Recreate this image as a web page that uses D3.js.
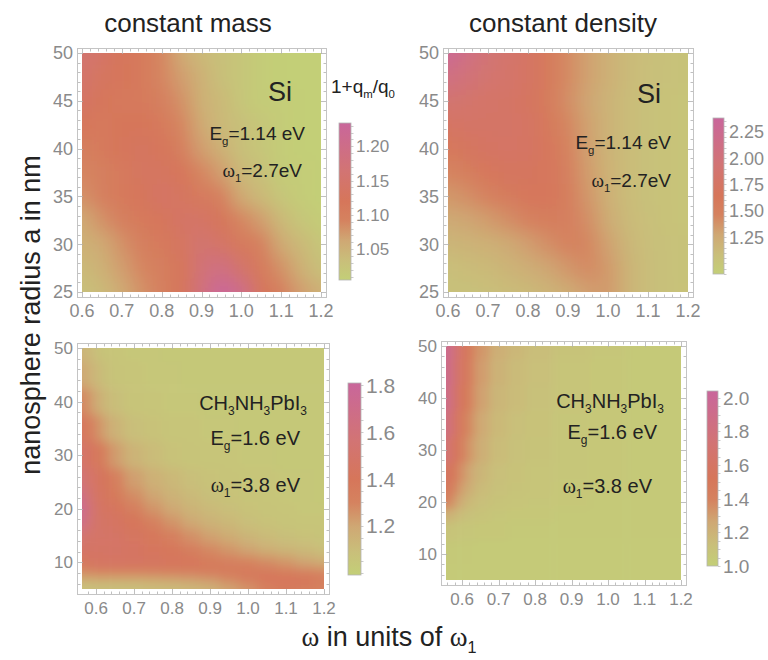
<!DOCTYPE html>
<html>
<head>
<meta charset="utf-8">
<script src="https://cdn.jsdelivr.net/npm/d3@7"></script>
<style>
  body { margin: 0; background: #fff; }
  text { font-family: 'Liberation Sans', Arial, sans-serif; }
</style>
</head>
<body>
<svg id="chart" width="768" height="660"></svg>
<script>
// grids (values of 1+q_m/q_0)
const siOmega = [0.6, 0.65, 0.7, 0.75, 0.8, 0.85, 0.9, 0.95, 1.0, 1.05, 1.1, 1.15, 1.2];
const siRadius = [50, 47.5, 45, 42.5, 40, 37.5, 35, 32.5, 30, 27.5, 25];

const siMassQ = [
  [1.16, 1.14, 1.12, 1.11, 1.09, 1.06, 1.04, 1.03, 1.02, 1.01, 1.00, 1.00, 1.00],
  [1.15, 1.13, 1.12, 1.11, 1.09, 1.07, 1.05, 1.03, 1.02, 1.01, 1.00, 1.00, 1.00],
  [1.14, 1.12, 1.11, 1.11, 1.10, 1.08, 1.05, 1.04, 1.02, 1.01, 1.01, 1.00, 1.00],
  [1.12, 1.11, 1.12, 1.12, 1.11, 1.09, 1.06, 1.04, 1.03, 1.02, 1.01, 1.00, 1.00],
  [1.10, 1.11, 1.12, 1.13, 1.12, 1.10, 1.07, 1.05, 1.03, 1.02, 1.01, 1.00, 1.00],
  [1.09, 1.10, 1.11, 1.13, 1.13, 1.12, 1.09, 1.07, 1.04, 1.03, 1.01, 1.01, 1.00],
  [1.08, 1.10, 1.11, 1.12, 1.14, 1.13, 1.11, 1.10, 1.06, 1.04, 1.02, 1.01, 1.00],
  [1.06, 1.08, 1.10, 1.11, 1.12, 1.14, 1.14, 1.12, 1.09, 1.07, 1.04, 1.02, 1.01],
  [1.05, 1.06, 1.08, 1.10, 1.11, 1.13, 1.16, 1.14, 1.11, 1.10, 1.06, 1.04, 1.02],
  [1.04, 1.05, 1.07, 1.09, 1.10, 1.12, 1.17, 1.19, 1.15, 1.11, 1.08, 1.05, 1.03],
  [1.03, 1.04, 1.06, 1.08, 1.10, 1.12, 1.18, 1.23, 1.20, 1.12, 1.10, 1.07, 1.05]
];

const siDensQ = [
  [2.30, 2.10, 1.95, 1.85, 1.75, 1.58, 1.42, 1.30, 1.20, 1.12, 1.08, 1.05, 1.03],
  [2.10, 1.98, 1.88, 1.82, 1.75, 1.58, 1.42, 1.30, 1.20, 1.12, 1.07, 1.05, 1.03],
  [1.90, 1.85, 1.80, 1.78, 1.72, 1.57, 1.40, 1.28, 1.18, 1.10, 1.06, 1.04, 1.02],
  [1.75, 1.78, 1.78, 1.78, 1.74, 1.60, 1.44, 1.30, 1.18, 1.10, 1.06, 1.04, 1.02],
  [1.60, 1.68, 1.74, 1.77, 1.75, 1.62, 1.46, 1.31, 1.18, 1.10, 1.06, 1.04, 1.02],
  [1.45, 1.52, 1.62, 1.70, 1.70, 1.62, 1.50, 1.33, 1.19, 1.10, 1.06, 1.04, 1.02],
  [1.35, 1.40, 1.47, 1.55, 1.62, 1.62, 1.52, 1.36, 1.20, 1.10, 1.06, 1.04, 1.02],
  [1.25, 1.28, 1.33, 1.40, 1.48, 1.52, 1.50, 1.40, 1.24, 1.12, 1.07, 1.04, 1.02],
  [1.15, 1.18, 1.20, 1.25, 1.32, 1.40, 1.46, 1.44, 1.30, 1.15, 1.08, 1.05, 1.03],
  [1.08, 1.10, 1.13, 1.17, 1.22, 1.28, 1.36, 1.42, 1.34, 1.18, 1.09, 1.05, 1.03],
  [1.05, 1.06, 1.08, 1.10, 1.13, 1.18, 1.24, 1.32, 1.34, 1.18, 1.09, 1.05, 1.04]
];

const pvkMassOmega = [0.563, 0.58, 0.6, 0.625, 0.65, 0.7, 0.75, 0.8, 0.85, 0.9, 0.95, 1.0, 1.05, 1.1, 1.15, 1.2];
const pvkMassRadius = [50, 45, 40, 35, 30, 25, 22.5, 20, 17.5, 15, 12.5, 10, 8, 6.5, 5];
const pvkMassQ = [
  [1.15, 1.12, 1.08, 1.06, 1.05, 1.04, 1.04, 1.03, 1.03, 1.03, 1.03, 1.03, 1.03, 1.03, 1.03, 1.03],
  [1.20, 1.16, 1.12, 1.08, 1.06, 1.05, 1.04, 1.04, 1.03, 1.03, 1.03, 1.03, 1.03, 1.03, 1.03, 1.03],
  [1.30, 1.25, 1.18, 1.12, 1.09, 1.06, 1.05, 1.04, 1.04, 1.03, 1.03, 1.03, 1.03, 1.03, 1.03, 1.03],
  [1.42, 1.36, 1.28, 1.20, 1.14, 1.09, 1.07, 1.05, 1.05, 1.04, 1.04, 1.03, 1.03, 1.03, 1.03, 1.03],
  [1.50, 1.45, 1.40, 1.30, 1.22, 1.14, 1.10, 1.07, 1.06, 1.05, 1.05, 1.04, 1.04, 1.03, 1.03, 1.03],
  [1.58, 1.50, 1.46, 1.40, 1.32, 1.22, 1.16, 1.12, 1.09, 1.07, 1.06, 1.05, 1.05, 1.04, 1.04, 1.03],
  [1.68, 1.55, 1.47, 1.42, 1.36, 1.27, 1.20, 1.15, 1.11, 1.08, 1.07, 1.06, 1.05, 1.04, 1.04, 1.03],
  [1.75, 1.60, 1.48, 1.45, 1.42, 1.33, 1.25, 1.19, 1.14, 1.11, 1.09, 1.07, 1.06, 1.05, 1.04, 1.04],
  [1.70, 1.58, 1.48, 1.47, 1.45, 1.40, 1.32, 1.25, 1.19, 1.15, 1.12, 1.09, 1.07, 1.06, 1.05, 1.05],
  [1.55, 1.50, 1.48, 1.48, 1.47, 1.44, 1.38, 1.32, 1.26, 1.21, 1.17, 1.13, 1.10, 1.08, 1.07, 1.06],
  [1.48, 1.47, 1.47, 1.47, 1.47, 1.45, 1.42, 1.38, 1.33, 1.28, 1.24, 1.20, 1.16, 1.13, 1.11, 1.09],
  [1.42, 1.44, 1.45, 1.46, 1.46, 1.45, 1.44, 1.42, 1.39, 1.36, 1.33, 1.30, 1.27, 1.24, 1.20, 1.17],
  [1.28, 1.29, 1.30, 1.30, 1.30, 1.30, 1.31, 1.32, 1.33, 1.35, 1.37, 1.38, 1.38, 1.36, 1.33, 1.30],
  [1.14, 1.14, 1.15, 1.15, 1.15, 1.15, 1.16, 1.18, 1.20, 1.22, 1.27, 1.32, 1.38, 1.40, 1.40, 1.35],
  [1.07, 1.07, 1.08, 1.08, 1.08, 1.09, 1.10, 1.10, 1.12, 1.15, 1.20, 1.25, 1.32, 1.35, 1.33, 1.30]
];

const pvkDensOmega = [0.556, 0.57, 0.585, 0.6, 0.62, 0.65, 0.7, 0.75, 0.8, 0.9, 1.0, 1.1, 1.2];
const pvkDensRadius = [50, 45, 40, 35, 30, 25, 22.5, 20, 17.5, 15, 10, 5];
const pvkDensQ = [
  [1.94, 1.86, 1.70, 1.58, 1.45, 1.32, 1.22, 1.17, 1.13, 1.09, 1.07, 1.05, 1.05],
  [1.92, 1.84, 1.68, 1.55, 1.43, 1.30, 1.20, 1.15, 1.12, 1.08, 1.06, 1.05, 1.05],
  [1.90, 1.80, 1.64, 1.52, 1.40, 1.28, 1.18, 1.14, 1.11, 1.08, 1.06, 1.05, 1.05],
  [1.84, 1.74, 1.58, 1.48, 1.36, 1.25, 1.16, 1.12, 1.10, 1.07, 1.06, 1.05, 1.05],
  [1.74, 1.65, 1.52, 1.42, 1.32, 1.22, 1.14, 1.11, 1.09, 1.07, 1.06, 1.05, 1.05],
  [1.58, 1.52, 1.42, 1.34, 1.26, 1.18, 1.12, 1.10, 1.08, 1.07, 1.06, 1.05, 1.05],
  [1.50, 1.45, 1.36, 1.28, 1.22, 1.15, 1.11, 1.09, 1.08, 1.06, 1.06, 1.05, 1.05],
  [1.42, 1.36, 1.28, 1.22, 1.16, 1.12, 1.09, 1.08, 1.07, 1.06, 1.05, 1.05, 1.05],
  [1.22, 1.20, 1.16, 1.13, 1.11, 1.09, 1.07, 1.06, 1.06, 1.05, 1.05, 1.05, 1.05],
  [1.10, 1.09, 1.08, 1.07, 1.07, 1.06, 1.06, 1.05, 1.05, 1.05, 1.05, 1.05, 1.05],
  [1.05, 1.05, 1.05, 1.05, 1.05, 1.04, 1.04, 1.04, 1.04, 1.04, 1.04, 1.04, 1.04],
  [1.04, 1.04, 1.04, 1.04, 1.04, 1.04, 1.04, 1.04, 1.04, 1.04, 1.04, 1.04, 1.04]
];

// tick labels
const omegaTicks = [0.6, 0.7, 0.8, 0.9, 1.0, 1.1, 1.2];
const siRadiusTicks = [25, 30, 35, 40, 45, 50];
const pvkRadiusTicks = [10, 20, 30, 40, 50];
const siMassBarTicks = [1.05, 1.10, 1.15, 1.20];
const siDensBarTicks = [1.25, 1.50, 1.75, 2.00, 2.25];
const pvkMassBarTicks = [1.2, 1.4, 1.6, 1.8];
const pvkDensBarTicks = [1.0, 1.2, 1.4, 1.6, 1.8, 2.0];

// colour gradient (green -> tan -> orange -> salmon -> pink)
const rampStops = [0, 0.12, 0.25, 0.38, 0.5, 0.7, 1];
const rampColors = ["#c3cf77", "#c9bf7a", "#cfa874", "#d5825f", "#d6765a", "#d27474", "#c9669b"];
const ramp = d3.scaleLinear().domain(rampStops).range(rampColors).interpolate(d3.interpolateRgb).clamp(true);

const svg = d3.select("#chart");
const defs = svg.append("defs");
const tickGrey = "#8a8a8a";
const frameGrey = "#c4c4c4";
const narrow = "'Liberation Sans Narrow', 'Liberation Sans', Arial, sans-serif";

const grad = defs.append("linearGradient").attr("id", "rampGrad")
  .attr("x1", 0).attr("y1", 1).attr("x2", 0).attr("y2", 0);
rampStops.forEach((s, i) => grad.append("stop").attr("offset", s).attr("stop-color", rampColors[i]));

// text with subscripts: parts = [{t, sub, serif}]
function richText(g, x, y, parts, size, anchor) {
  const t = g.append("text").attr("x", x).attr("y", y)
    .attr("text-anchor", anchor || "start")
    .style("font-size", size + "px").attr("fill", "#222");
  let down = false;
  parts.forEach(p => {
    const ts = t.append("tspan").text(p.t);
    if (p.serif) ts.style("font-family", "'Liberation Serif', 'DejaVu Serif', serif");
    if (p.sub) {
      ts.style("font-size", (size * 0.6) + "px");
      if (!down) { ts.attr("dy", size * 0.26); down = true; }
    } else if (down) {
      ts.attr("dy", -size * 0.26); down = false;
    }
  });
  return t;
}

function drawPanel(cfg, idx) {
  const [x0, x1, y0, y1] = cfg.box;
  const x = d3.scaleLinear().domain(cfg.xDom).range([x0, x1]);
  const y = d3.scaleLinear().domain(cfg.yDom).range([y1, y0]);
  const cmap = d3.scaleLinear().domain(cfg.bar.dom).range([0, 1]).clamp(true);
  const g = svg.append("g");

  // clip + blur
  defs.append("clipPath").attr("id", "clip" + idx)
    .append("rect").attr("x", x0).attr("y", y0).attr("width", x1 - x0).attr("height", y1 - y0);
  defs.append("filter").attr("id", "blur" + idx)
    .attr("x", "-10%").attr("y", "-10%").attr("width", "120%").attr("height", "120%")
    .append("feGaussianBlur").attr("stdDeviation", cfg.blur);

  const pad = 30;
  const px = cfg.omega.map(x);
  const py = cfg.radius.map(y);
  const xe = px.map((v, i) => i === 0 ? v - pad : (px[i - 1] + v) / 2).concat([px[px.length - 1] + pad]);
  // radius arrays run top->bottom
  const ye = py.map((v, i) => i === 0 ? v - pad : (py[i - 1] + v) / 2).concat([py[py.length - 1] + pad]);

  const cells = [];
  cfg.q.forEach((row, r) => row.forEach((v, c) => cells.push({ r, c, v })));

  g.append("g").attr("clip-path", `url(#clip${idx})`)
    .append("g").attr("filter", `url(#blur${idx})`)
    .selectAll("rect").data(cells).join("rect")
    .attr("x", d => xe[d.c])
    .attr("y", d => ye[d.r])
    .attr("width", d => xe[d.c + 1] - xe[d.c] + 0.6)
    .attr("height", d => ye[d.r + 1] - ye[d.r] + 0.6)
    .attr("fill", d => ramp(cmap(d.v)));

  // frame
  const fx0 = x0 - 5, fx1 = x1 + 5, fy0 = y0 - 5, fy1 = y1 + 5;
  g.append("rect").attr("x", fx0 + 0.5).attr("y", fy0 + 0.5)
    .attr("width", fx1 - fx0).attr("height", fy1 - fy0)
    .attr("fill", "none").attr("stroke", frameGrey).attr("stroke-width", 1);

  const ticks = g.append("g").attr("stroke", "#b0b0b0").attr("stroke-width", 0.8);
  const xMinor = d3.range(Math.ceil(cfg.xDom[0] / 0.02 - 1e-6), Math.floor(cfg.xDom[1] / 0.02 + 1e-6) + 1).map(k => k * 0.02);
  xMinor.forEach(v => {
    const major = Math.abs(v * 10 - Math.round(v * 10)) < 1e-6;
    const len = major ? 5 : 2.5;
    const xx = Math.round(x(v)) + 0.5;
    ticks.append("line").attr("x1", xx).attr("x2", xx).attr("y1", fy1).attr("y2", fy1 - len);
    ticks.append("line").attr("x1", xx).attr("x2", xx).attr("y1", fy0 + 1).attr("y2", fy0 + 1 + len);
  });
  const yMinor = d3.range(Math.ceil(cfg.yDom[0] / cfg.yMinor), Math.floor(cfg.yDom[1] / cfg.yMinor) + 1).map(k => k * cfg.yMinor);
  yMinor.forEach(v => {
    const major = cfg.yTicks.includes(v);
    const len = major ? 5 : 2.5;
    const yy = Math.round(y(v)) + 0.5;
    ticks.append("line").attr("y1", yy).attr("y2", yy).attr("x1", fx0 + 1).attr("x2", fx0 + 1 + len);
    ticks.append("line").attr("y1", yy).attr("y2", yy).attr("x1", fx1).attr("x2", fx1 - len);
  });

  g.selectAll(".xt").data(omegaTicks).join("text").attr("class", "xt")
    .attr("x", d => x(d)).attr("y", fy1 + 20)
    .attr("text-anchor", "middle").attr("fill", tickGrey)
    .style("font-family", narrow).style("font-size", cfg.tickSize + "px")
    .text(d => d3.format(".1f")(d));
  g.selectAll(".yt").data(cfg.yTicks).join("text").attr("class", "yt")
    .attr("x", fx0 - 4).attr("y", d => y(d)).attr("dy", "0.35em")
    .attr("text-anchor", "end").attr("fill", tickGrey)
    .style("font-family", narrow).style("font-size", cfg.tickSize + "px")
    .text(d => d);

  // colour bar
  const b = cfg.bar;
  const by = d3.scaleLinear().domain(b.dom).range([b.y1, b.y0]);
  g.append("rect").attr("x", b.x).attr("y", b.y0).attr("width", b.w).attr("height", b.y1 - b.y0)
    .attr("fill", "url(#rampGrad)").attr("stroke", "#b5b5b5").attr("stroke-width", 0.8);
  const bMinor = d3.range(Math.ceil(b.dom[0] / b.minor), Math.floor(b.dom[1] / b.minor) + 1).map(k => k * b.minor);
  g.append("g").attr("stroke", "#b5b5b5").attr("stroke-width", 0.7)
    .selectAll("line").data(bMinor).join("line")
    .attr("x1", b.x + b.w).attr("x2", b.x + b.w + 2.5)
    .attr("y1", d => Math.round(by(d)) + 0.5).attr("y2", d => Math.round(by(d)) + 0.5);
  g.selectAll(".bt").data(b.ticks).join("text").attr("class", "bt")
    .attr("x", b.x + b.w + 5).attr("y", d => by(d)).attr("dy", "0.36em")
    .attr("fill", tickGrey)
    .style("font-family", narrow).style("font-size", b.size + "px")
    .text(d => d3.format(b.fmt)(d));

  cfg.notes.forEach(n => richText(g, n.x, n.y, n.parts, n.size, "end"));
}

const omegaOne = [{ t: "ω", serif: true }, { t: "1", sub: true }];

const panels = [
  {
    omega: siOmega, radius: siRadius, q: siMassQ,
    xDom: [0.6, 1.2], yDom: [25, 50], box: [82, 321, 53, 292],
    yTicks: siRadiusTicks, yMinor: 1, blur: 9, tickSize: 18,
    bar: { x: 339, w: 12, y0: 123, y1: 280, dom: [1.005, 1.234], ticks: siMassBarTicks, fmt: ".2f", size: 17, minor: 0.01 },
    notes: [
      { x: 292, y: 101, size: 27, parts: [{ t: "Si" }] },
      { x: 305, y: 140, size: 19, parts: [{ t: "E" }, { t: "g", sub: true }, { t: "=1.14 eV" }] },
      { x: 302, y: 177, size: 19, parts: omegaOne.concat([{ t: "=2.7eV" }]) }
    ]
  },
  {
    omega: siOmega, radius: siRadius, q: siDensQ,
    xDom: [0.6, 1.2], yDom: [25, 50], box: [448, 688, 53, 292],
    yTicks: siRadiusTicks, yMinor: 1, blur: 9, tickSize: 18,
    bar: { x: 713, w: 11, y0: 118, y1: 274, dom: [0.9, 2.38], ticks: siDensBarTicks, fmt: ".2f", size: 18, minor: 0.05 },
    notes: [
      { x: 661, y: 103, size: 27, parts: [{ t: "Si" }] },
      { x: 671, y: 149, size: 19, parts: [{ t: "E" }, { t: "g", sub: true }, { t: "=1.14 eV" }] },
      { x: 671, y: 187, size: 19, parts: omegaOne.concat([{ t: "=2.7eV" }]) }
    ]
  },
  {
    omega: pvkMassOmega, radius: pvkMassRadius, q: pvkMassQ,
    xDom: [0.563, 1.2], yDom: [5, 50], box: [82, 324, 348, 589],
    yTicks: pvkRadiusTicks, yMinor: 2, blur: 5.5, tickSize: 17,
    bar: { x: 348, w: 13, y0: 383, y1: 575, dom: [0.99, 1.81], ticks: pvkMassBarTicks, fmt: ".1f", size: 21, minor: 0.05 },
    notes: [
      { x: 307, y: 410, size: 20, parts: [{ t: "CH" }, { t: "3", sub: true }, { t: "NH" }, { t: "3", sub: true }, { t: "PbI" }, { t: "3", sub: true }] },
      { x: 300, y: 445, size: 20, parts: [{ t: "E" }, { t: "g", sub: true }, { t: "=1.6 eV" }] },
      { x: 300, y: 492, size: 20, parts: omegaOne.concat([{ t: "=3.8 eV" }]) }
    ]
  },
  {
    omega: pvkDensOmega, radius: pvkDensRadius, q: pvkDensQ,
    xDom: [0.556, 1.2], yDom: [5, 50], box: [446, 681, 346, 580],
    yTicks: pvkRadiusTicks, yMinor: 2, blur: 4.5, tickSize: 17,
    bar: { x: 707, w: 11, y0: 391, y1: 566, dom: [1.0, 2.04], ticks: pvkDensBarTicks, fmt: ".1f", size: 19, minor: 0.05 },
    notes: [
      { x: 664, y: 408, size: 20, parts: [{ t: "CH" }, { t: "3", sub: true }, { t: "NH" }, { t: "3", sub: true }, { t: "PbI" }, { t: "3", sub: true }] },
      { x: 657, y: 439, size: 20, parts: [{ t: "E" }, { t: "g", sub: true }, { t: "=1.6 eV" }] },
      { x: 652, y: 493, size: 20, parts: omegaOne.concat([{ t: "=3.8 eV" }]) }
    ]
  }
];

panels.forEach((p, i) => drawPanel(p, i));

// titles and axis labels
svg.append("text").attr("x", 188).attr("y", 32).attr("text-anchor", "middle")
  .style("font-size", "26px").attr("fill", "#222").text("constant mass");
svg.append("text").attr("x", 563).attr("y", 32).attr("text-anchor", "middle")
  .style("font-size", "26px").attr("fill", "#222").text("constant density");

richText(svg, 331, 93, [{ t: "1+q" }, { t: "m", sub: true }, { t: "/q" }, { t: "0", sub: true }], 19, "start");

svg.append("text").attr("transform", "translate(40,315) rotate(-90)")
  .attr("text-anchor", "middle").style("font-size", "27px").attr("fill", "#222")
  .text("nanosphere radius a in nm");

richText(svg, 389, 646, [{ t: "ω", serif: true }, { t: " in units of " }, { t: "ω", serif: true }, { t: "1", sub: true }], 27, "middle");
</script>
</body>
</html>
